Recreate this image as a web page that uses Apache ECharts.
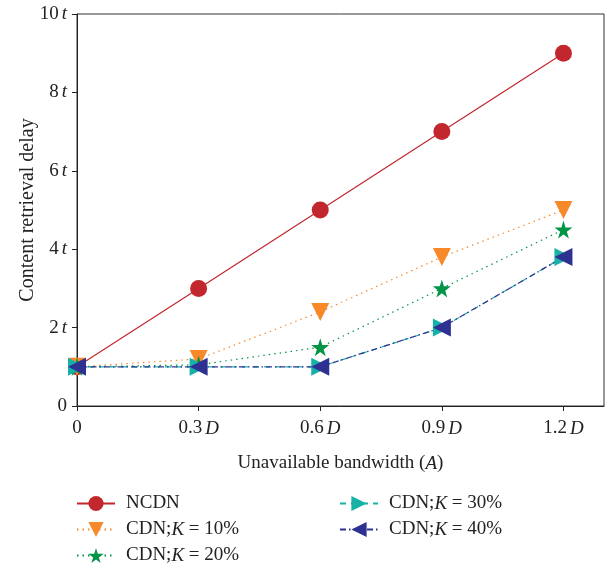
<!DOCTYPE html>
<html>
<head>
<meta charset="utf-8">
<script src="https://cdn.jsdelivr.net/npm/echarts@6/dist/echarts.min.js"></script>
<style>
  html, body { margin: 0; padding: 0; background: #fff; }
  #chart { width: 612px; height: 569px; }
</style>
</head>
<body>
<div id="chart"></div>
<script>
// x positions (fraction of D)
const xValues = [0, 0.3, 0.6, 0.9, 1.2];
const ncdn = [1, 3, 5, 7, 9];
const cdnK10 = [1, 1.2, 2.4, 3.8, 5.0];
const cdnK20 = [1, 1.05, 1.5, 3.0, 4.5];
const cdnK30 = [1, 1, 1, 2, 3.8];
const cdnK40 = [1, 1, 1, 2, 3.8];
const yTicks = [0, 2, 4, 6, 8, 10];

const serif = "Liberation Serif";
const fs = 19;
const starPath = "path://M50,0 L61,35 L98,35 L68,57 L79,91 L50,70 L21,91 L32,57 L2,35 L39,35 Z";

function pairs(ys) {
  return xValues.map((x, i) => [x, ys[i]]);
}

const chart = echarts.init(document.getElementById("chart"));

const seriesDefs = [
  { name: "NCDN", data: ncdn, color: "#c1272d", type: "solid", symbol: "circle", size: 17, rot: 0 },
  { name: "CDN;K = 10%", data: cdnK10, color: "#f7892b", type: [1.5, 4], symbol: "triangle", size: 18, rot: 180 },
  { name: "CDN;K = 20%", data: cdnK20, color: "#009447", type: [1.5, 4], symbol: starPath, size: 18, rot: 0 },
  { name: "CDN;K = 30%", data: cdnK30, color: "#17b1a7", type: [6, 5], symbol: "triangle", size: 18, rot: -90 },
  { name: "CDN;K = 40%", data: cdnK40, color: "#2e3192", type: [6, 3, 1.5, 3], symbol: "triangle", size: 18, rot: 90 }
];

const series = seriesDefs.map(s => ({
  name: s.name,
  type: "line",
  data: pairs(s.data),
  symbol: s.symbol,
  symbolSize: s.size,
  symbolRotate: s.rot,
  showAllSymbol: true,
  color: s.color,
  itemStyle: { color: s.color, opacity: 1 },
  lineStyle: { color: s.color, width: 1.2, type: s.type },
  emphasis: { disabled: true },
  animation: false
}));

const italic = { fontFamily: serif, fontSize: fs, fontStyle: "italic", color: "#222" };

const labelRich = {
  n: { fontFamily: serif, fontSize: fs, color: "#222" },
  i: Object.assign({}, italic, { padding: [0, 0, 0, 3] })
};

const legendText = {
  fontFamily: serif,
  fontSize: fs,
  color: "#222",
  padding: [0, 0, 0, 6],
  rich: { i: italic }
};

const legendBase = {
  orient: "vertical",
  top: 494,
  padding: 0,
  height: 76,
  itemWidth: 38, itemHeight: 19, itemGap: 7,
  textStyle: legendText,
  selectedMode: false,
  formatter: n => n.replace("K", "{i|K}")
};

chart.setOption({
  backgroundColor: "#fff",
  animation: false,
  grid: {
    left: 77, right: 8, top: 14, bottom: 163,
    show: true, borderColor: "#333", borderWidth: 1, containLabel: false
  },
  xAxis: {
    type: "value",
    min: 0, max: 1.3,
    name: "Unavailable bandwidth ({i|A})",
    nameLocation: "middle",
    nameGap: 48,
    nameMoveOverlap: false,
    nameTextStyle: { fontFamily: serif, fontSize: fs, color: "#222", rich: { i: italic } },
    axisLine: { show: true, lineStyle: { color: "#222", width: 1 } },
    axisTick: { show: true, inside: false, length: 5, lineStyle: { color: "#222" }, customValues: xValues },
    splitLine: { show: false },
    axisLabel: {
      customValues: xValues,
      margin: 13,
      formatter: v => v === 0 ? "{n|0}" : "{n|" + v.toFixed(1) + "}{i|D}",
      rich: labelRich
    }
  },
  yAxis: {
    type: "value",
    min: 0, max: 10, interval: 2,
    name: "Content retrieval delay",
    nameLocation: "middle",
    nameGap: 39,
    nameMoveOverlap: false,
    nameTextStyle: { fontFamily: serif, fontSize: fs + 1, color: "#222" },
    axisLine: { show: true, lineStyle: { color: "#222", width: 1 } },
    axisTick: { show: true, inside: false, length: 5, lineStyle: { color: "#222" } },
    splitLine: { show: false },
    axisLabel: {
      customValues: yTicks,
      margin: 10,
      formatter: v => v === 0 ? "{n|0}" : "{n|" + v + "}{i|t}",
      rich: labelRich
    }
  },
  legend: [
    Object.assign({}, legendBase, { data: ["NCDN", "CDN;K = 10%", "CDN;K = 20%"], left: 76 }),
    Object.assign({}, legendBase, { data: ["CDN;K = 30%", "CDN;K = 40%"], left: 339 })
  ],
  series: series
});
</script>
</body>
</html>
